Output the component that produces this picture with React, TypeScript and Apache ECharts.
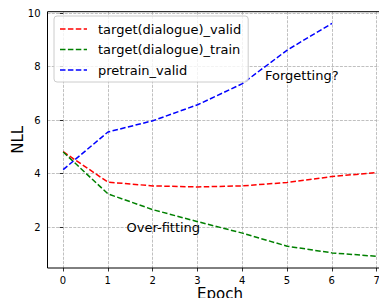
import React, { useEffect, useRef } from "react";
import * as echarts from "echarts";

const epochs = [0, 1, 2, 3, 4, 5, 6, 7];
const targetValid = [4.81, 3.67, 3.53, 3.49, 3.53, 3.66, 3.88, 4.03];
const targetTrain = [4.8, 3.23, 2.64, 2.19, 1.76, 1.27, 1.02, 0.89];
const pretrainValid = [4.14, 5.55, 5.97, 6.57, 7.36, 8.62, 9.62];
const xTicks = [0, 1, 2, 3, 4, 5, 6, 7];
const yTicks = [2, 4, 6, 8, 10];
const seriesNames = ["target(dialogue)_valid", "target(dialogue)_train", "pretrain_valid"];

const FONT = "DejaVu Sans";
const DASH_ICON = "path://M0,0h5.5v1.5h-5.5z M7.9,0h5.5v1.5h-5.5z M15.8,0h5.5v1.5h-5.5z M23.7,0h3.3v1.5h-3.3z";

export default function App() {
  const ref = useRef<HTMLDivElement>(null);
  useEffect(() => {
    const chart = echarts.init(ref.current!, null, { renderer: "svg" });
    const pairs = (vals: number[]) => vals.map((v, i) => [epochs[i], v]);
    const xMin = -0.35, xMax = 7.35, yMin = 0.4535, yMax = 10.0565;
    const gridLine = { show: true, lineStyle: { color: "#b0b0b0", width: 0.8, type: [3, 1.3] } };
    const dash = [5.5, 2.4];
    const line = (name: string, vals: number[], color: string) => ({
      name,
      type: "line",
      xAxisIndex: 0,
      yAxisIndex: 0,
      data: pairs(vals),
      symbol: "none",
      showSymbol: false,
      lineStyle: { color, width: 1.5, type: dash },
      itemStyle: { color },
      z: 5,
    });
    chart.setOption({
      animation: false,
      textStyle: { fontFamily: FONT },
      grid: [
        { left: 47.5, top: 11.7, width: 345, height: 256.3, show: true, borderColor: "#000", borderWidth: 1, backgroundColor: "transparent", z: 3, containLabel: false, outerBoundsMode: "none" },
        { left: 63, top: 11.7, width: 313.6, height: 256.3, containLabel: false, outerBoundsMode: "none" },
        { left: 47.5, top: 13.3, width: 345, height: 213.7, containLabel: false, outerBoundsMode: "none" },
      ],
      xAxis: [
        {
          gridIndex: 0, type: "value", min: xMin, max: xMax,
          axisLine: { show: false }, axisTick: { show: false }, axisLabel: { show: false }, splitLine: { show: false },
          name: "Epoch", nameLocation: "middle", nameGap: 18.5,
          nameTextStyle: { fontSize: 15, color: "#000", fontFamily: FONT },
        },
        {
          gridIndex: 1, type: "value", min: xTicks[0], max: xTicks[xTicks.length - 1], interval: 1,
          axisLine: { show: false },
          axisTick: { show: true, inside: false, length: 3.5, lineStyle: { color: "#000", width: 0.8 } },
          axisLabel: { show: true, margin: 7, fontSize: 10, color: "#000", fontFamily: FONT },
          splitLine: gridLine,
        },
        { gridIndex: 2, type: "value", min: xMin, max: xMax, show: false },
      ],
      yAxis: [
        {
          gridIndex: 0, type: "value", min: yMin, max: yMax,
          axisLine: { show: false }, axisTick: { show: false }, axisLabel: { show: false }, splitLine: { show: false },
          name: "NLL", nameLocation: "middle", nameGap: 22, nameRotate: 90,
          nameTextStyle: { fontSize: 15, color: "#000", fontFamily: FONT },
        },
        { gridIndex: 1, type: "value", min: yMin, max: yMax, show: false },
        {
          gridIndex: 2, type: "value", min: yTicks[0], max: yTicks[yTicks.length - 1], interval: 2,
          axisLine: { show: false },
          axisTick: { show: true, inside: false, length: 3.5, lineStyle: { color: "#000", width: 0.8 } },
          axisLabel: { show: true, margin: 7, fontSize: 10, color: "#000", fontFamily: FONT },
          splitLine: gridLine,
        },
      ],
      legend: {
        show: true,
        orient: "vertical",
        left: 54,
        top: 16,
        padding: [6, 7, 5, 6],
        itemGap: 6.5,
        itemWidth: 27,
        itemHeight: 14,
        symbolKeepAspect: true,
        backgroundColor: "rgba(255,255,255,0.8)",
        borderColor: "#cccccc",
        borderWidth: 1,
        borderRadius: 3,
        textStyle: { fontSize: 13, color: "#000", fontFamily: FONT, padding: [0, 0, 0, 6], lineHeight: 14 },
        data: seriesNames.map((n) => ({ name: n, icon: DASH_ICON })),
        z: 10,
      },
      graphic: [
        { type: "text", left: 265, top: 69, z: 20, style: { text: "Forgetting?", font: `13px ${FONT}`, fill: "#000" } },
        { type: "text", left: 126.5, top: 221, z: 20, style: { text: "Over-fitting", font: `13px ${FONT}`, fill: "#000" } },
      ],
      series: [
        line(seriesNames[0], targetValid, "#ff0000"),
        line(seriesNames[1], targetTrain, "#008000"),
        line(seriesNames[2], pretrainValid, "#0000ff"),
      ],
    });
    return () => chart.dispose();
  }, []);
  return (
    <div
      ref={ref}
      style={{ position: "fixed", left: 0, top: 0, width: 379, height: 298, background: "#fff" }}
    />
  );
}
